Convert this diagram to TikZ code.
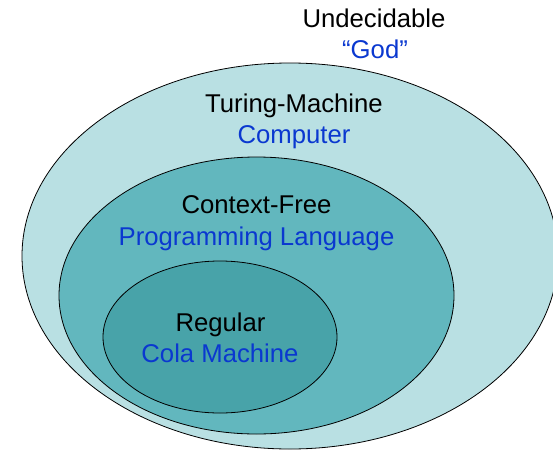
\documentclass[tikz,border=0pt]{standalone}
\usepackage{fontspec}
\setmainfont{Liberation Sans}
\definecolor{outerfill}{RGB}{185,224,227}
\definecolor{midfill}{RGB}{98,183,190}
\definecolor{innerfill}{RGB}{72,163,169}
\definecolor{labelblue}{RGB}{10,56,208}
\begin{document}
\begin{tikzpicture}[x=1pt,y=-1pt,
  setshape/.style={draw=black,line width=0.8pt},
  lbl/.style={anchor=base,inner sep=0pt,font=\fontsize{25.7}{30}\selectfont,text=black},
  sublbl/.style={lbl,text=labelblue}]
\useasboundingbox (0,0) rectangle (553,452);
\clip (0,0) rectangle (553,452);
\fill[white] (0,0) rectangle (553,452);
\draw[setshape,fill=outerfill] (290,256) ellipse [x radius=268,y radius=193];
\draw[setshape,fill=midfill] (256.5,295.5) ellipse [x radius=197.5,y radius=138.5];
\draw[setshape,fill=innerfill] (220,337) ellipse [x radius=117,y radius=76];
\node[lbl] (undec) at (374,28) {Undecidable};
\node[sublbl] (god) at (375,59) {“God”};
\node[lbl] (turing) at (294,112) {Turing-Machine};
\node[sublbl] (computer) at (294,143) {Computer};
\node[lbl] (cf) at (256.5,213) {Context-Free};
\node[sublbl] (prog) at (256.5,245) {Programming Language};
\node[lbl] (reg) at (220.5,331) {Regular};
\node[sublbl] (cola) at (220,362) {Cola Machine};
\end{tikzpicture}
\end{document}
